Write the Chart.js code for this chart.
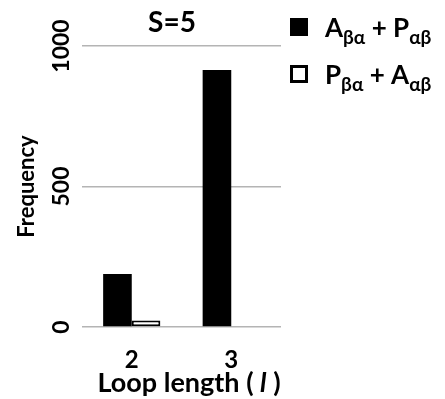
<!DOCTYPE html>
<html>
<head>
<meta charset="utf-8">
<script src="https://cdn.jsdelivr.net/npm/chart.js@4.4.1/dist/chart.umd.min.js"></script>
<style>
  html, body { margin: 0; padding: 0; background: #fff; }
  #wrap { position: relative; width: 445px; height: 399px; }
  #legend {
    position: absolute; left: 290px; top: 12px;
    font-family: Lato, "Open Sans", sans-serif; font-weight: bold; color: #000;
    font-size: 26px; white-space: nowrap;
  }
  #legend .row { display: flex; align-items: center; height: 30px; margin-bottom: 17px; }
  #legend .box { width: 18px; height: 18px; box-sizing: border-box; margin-right: 17px; flex: none; }
  #legend sub { font-size: 19px; vertical-align: -7px; line-height: 0; }
</style>
</head>
<body>
<div id="wrap">
  <canvas id="chart" width="445" height="399"></canvas>
  <div id="legend"></div>
</div>
<script>
// ---- DATA ----
const categories = ["2", "3"];
const seriesA = [189, 915];   // A_βα + P_αβ
const seriesP = [23, 3];      // P_βα + A_αβ
const yTicks = [0, 500, 1000];
const legendHtml = [
  "A<sub>βα</sub> + P<sub>αβ</sub>",
  "P<sub>βα</sub> + A<sub>αβ</sub>"
];

const FONT = "Lato, 'Open Sans', sans-serif";

// ---- LEGEND (HTML, needs subscripts) ----
const legendEl = document.getElementById("legend");
const boxStyles = [
  "background:#000;",
  "background:#fff;border:3px solid #000;"
];
legendHtml.forEach((txt, i) => {
  const row = document.createElement("div");
  row.className = "row";
  row.innerHTML = '<span class="box" style="' + boxStyles[i] + '"></span><span>' + txt + "</span>";
  legendEl.appendChild(row);
});

// ---- CUSTOM TEXT: title, rotated y ticks, x title ----
const textPlugin = {
  id: "textPlugin",
  afterDraw(chart) {
    const ctx = chart.ctx;
    const y = chart.scales.y;
    ctx.save();
    ctx.fillStyle = "#000";

    // title
    ctx.font = "bold 28px " + FONT;
    ctx.textAlign = "center";
    ctx.textBaseline = "middle";
    ctx.fillText("S=5", 172, 23);

    // y tick labels, rotated
    ctx.font = "bold 23px " + FONT;
    yTicks.forEach(v => {
      ctx.save();
      ctx.translate(62, y.getPixelForValue(v));
      ctx.rotate(-Math.PI / 2);
      ctx.fillText(String(v), 0, 0);
      ctx.restore();
    });

    // x title with italic l
    const parts = [
      ["bold 27px " + FONT, "Loop length ( "],
      ["bold italic 27px " + FONT, "l"],
      ["bold 27px " + FONT, " )"]
    ];
    let total = 0;
    parts.forEach(p => { ctx.font = p[0]; total += ctx.measureText(p[1]).width; });
    let x = 189 - total / 2;
    ctx.textAlign = "left";
    parts.forEach(p => {
      ctx.font = p[0];
      ctx.fillText(p[1], x, 383);
      x += ctx.measureText(p[1]).width;
    });
    ctx.restore();
  }
};

// ---- CHART ----
new Chart(document.getElementById("chart"), {
  type: "bar",
  data: {
    labels: categories,
    datasets: [
      {
        label: "A_βα + P_αβ",
        data: seriesA,
        backgroundColor: "#000",
        borderColor: "#000",
        borderWidth: 0
      },
      {
        label: "P_βα + A_αβ",
        data: seriesP,
        backgroundColor: "#fff",
        borderColor: "#000",
        borderWidth: 2,
        borderSkipped: false
      }
    ]
  },
  options: {
    responsive: false,
    animation: false,
    devicePixelRatio: 1,
    layout: { padding: { top: 46, right: 164, left: 0, bottom: 0 } },
    datasets: { bar: { categoryPercentage: 0.575, barPercentage: 1 } },
    plugins: {
      legend: { display: false },
      title: { display: false },
      tooltip: { enabled: false }
    },
    scales: {
      x: {
        grid: { display: false },
        border: { display: false },
        ticks: { color: "#000", font: { family: FONT, size: 24, weight: "bold" }, padding: 11 },
        afterFit: s => { s.height = 72; }
      },
      y: {
        min: 0,
        max: 1000,
        ticks: { display: false, stepSize: 500 },
        grid: { color: "#b4b4b4", lineWidth: 1.5, drawTicks: false },
        border: { display: false },
        title: {
          display: true,
          text: "Frequency",
          color: "#000",
          font: { family: FONT, size: 22, weight: "bold" },
          padding: { top: 14, bottom: 0 }
        },
        afterFit: s => { s.width = 82; }
      }
    }
  },
  plugins: [textPlugin]
});
</script>
</body>
</html>
